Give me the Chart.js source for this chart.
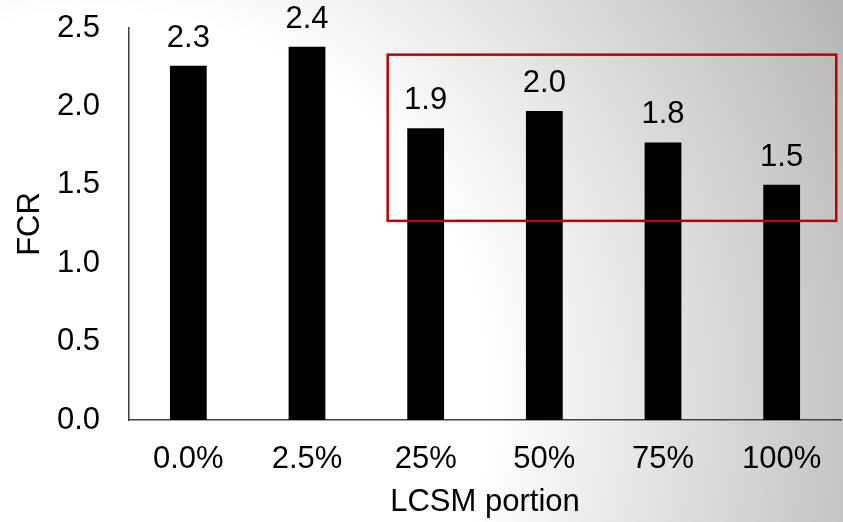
<!DOCTYPE html>
<html>
<head>
<meta charset="utf-8">
<script src="https://cdn.jsdelivr.net/npm/chart.js@4.4.1/dist/chart.umd.min.js"></script>
<style>
  html, body { margin: 0; padding: 0; background: #fff; }
  #wrap { width: 843px; height: 522px; }
</style>
</head>
<body>
<div id="wrap"><canvas id="myChart" width="843" height="522"></canvas></div>
<script>
// data
var portions = ["0.0%", "2.5%", "25%", "50%", "75%", "100%"];
var fcrValues = [2.26, 2.38, 1.86, 1.97, 1.77, 1.50];
var yTicks = [0, 0.5, 1.0, 1.5, 2.0, 2.5];
// highlight box, in category index / FCR units
var boxX = [1.68, 5.46];
var boxY = [1.27, 2.33];

var FONT = "'Liberation Sans', Arial, sans-serif";
var FSIZE = 31;

// grey gradient background
var bgPlugin = {
  id: "bg",
  beforeDraw: function (chart) {
    var ctx = chart.ctx;
    var g = ctx.createRadialGradient(100, 400, 0, 100, 400, 860);
    g.addColorStop(0, "#ffffff");
    g.addColorStop(0.45, "#ffffff");
    g.addColorStop(1, "#b2b2b2");
    ctx.save();
    ctx.fillStyle = g;
    ctx.fillRect(0, 0, chart.width, chart.height);
    ctx.restore();
  }
};

// value labels on top of bars + red box
var labelPlugin = {
  id: "barLabels",
  afterDatasetsDraw: function (chart) {
    var ctx = chart.ctx;
    var meta = chart.getDatasetMeta(0);
    ctx.save();
    ctx.font = FSIZE + "px " + FONT;
    ctx.fillStyle = "#000";
    ctx.textAlign = "center";
    ctx.textBaseline = "alphabetic";
    meta.data.forEach(function (bar, i) {
      ctx.fillText(fcrValues[i].toFixed(1), bar.x, bar.y - 19);
    });
    ctx.restore();
  },
  afterDraw: function (chart) {
    var ctx = chart.ctx;
    var xs = chart.scales.x, ys = chart.scales.y;
    var x1 = xs.getPixelForValue(boxX[0]);
    var x2 = xs.getPixelForValue(boxX[1]);
    var y1 = ys.getPixelForValue(boxY[1]);
    var y2 = ys.getPixelForValue(boxY[0]);
    ctx.save();
    ctx.strokeStyle = "#c00000";
    ctx.lineWidth = 2.5;
    ctx.strokeRect(x1, y1, x2 - x1, y2 - y1);
    ctx.restore();
  }
};

var myChart = new Chart(document.getElementById("myChart"), {
  type: "bar",
  data: {
    labels: portions,
    datasets: [{
      label: "FCR",
      data: fcrValues,
      backgroundColor: "#000000",
      borderWidth: 0,
      barPercentage: 1,
      categoryPercentage: 0.31
    }]
  },
  options: {
    responsive: false,
    animation: false,
    layout: { padding: { top: 28, right: 2, left: 0, bottom: 0 } },
    plugins: {
      legend: { display: false },
      tooltip: { enabled: false }
    },
    scales: {
      x: {
        grid: { display: false, drawTicks: false },
        border: { display: true, color: "#404040", width: 1.5 },
        ticks: { color: "#000", font: { family: FONT, size: FSIZE }, padding: 21, maxRotation: 0 },
        title: { display: true, text: "LCSM portion", color: "#000",
                 font: { family: FONT, size: FSIZE }, padding: { top: 0, bottom: 1 } },
        afterFit: function (scale) {
          scale.height = 102;
          scale.paddingLeft = 0; scale.paddingRight = 0;
        }
      },
      y: {
        min: 0,
        max: 2.5,
        afterBuildTicks: function (scale) {
          scale.ticks = yTicks.map(function (v) { return { value: v }; });
        },
        grid: { display: false, drawTicks: false },
        border: { display: true, color: "#404040", width: 1.5 },
        ticks: {
          color: "#000",
          font: { family: FONT, size: FSIZE },
          padding: 29,
          callback: function (v) { return Number(v).toFixed(1); }
        },
        title: { display: true, text: "FCR", color: "#000",
                 font: { family: FONT, size: FSIZE }, padding: { top: 12, bottom: 0 } },
        afterFit: function (scale) {
          scale.width = 129;
          scale.paddingTop = 0; scale.paddingBottom = 0;
        }
      }
    }
  },
  plugins: [bgPlugin, labelPlugin]
});
</script>
</body>
</html>
